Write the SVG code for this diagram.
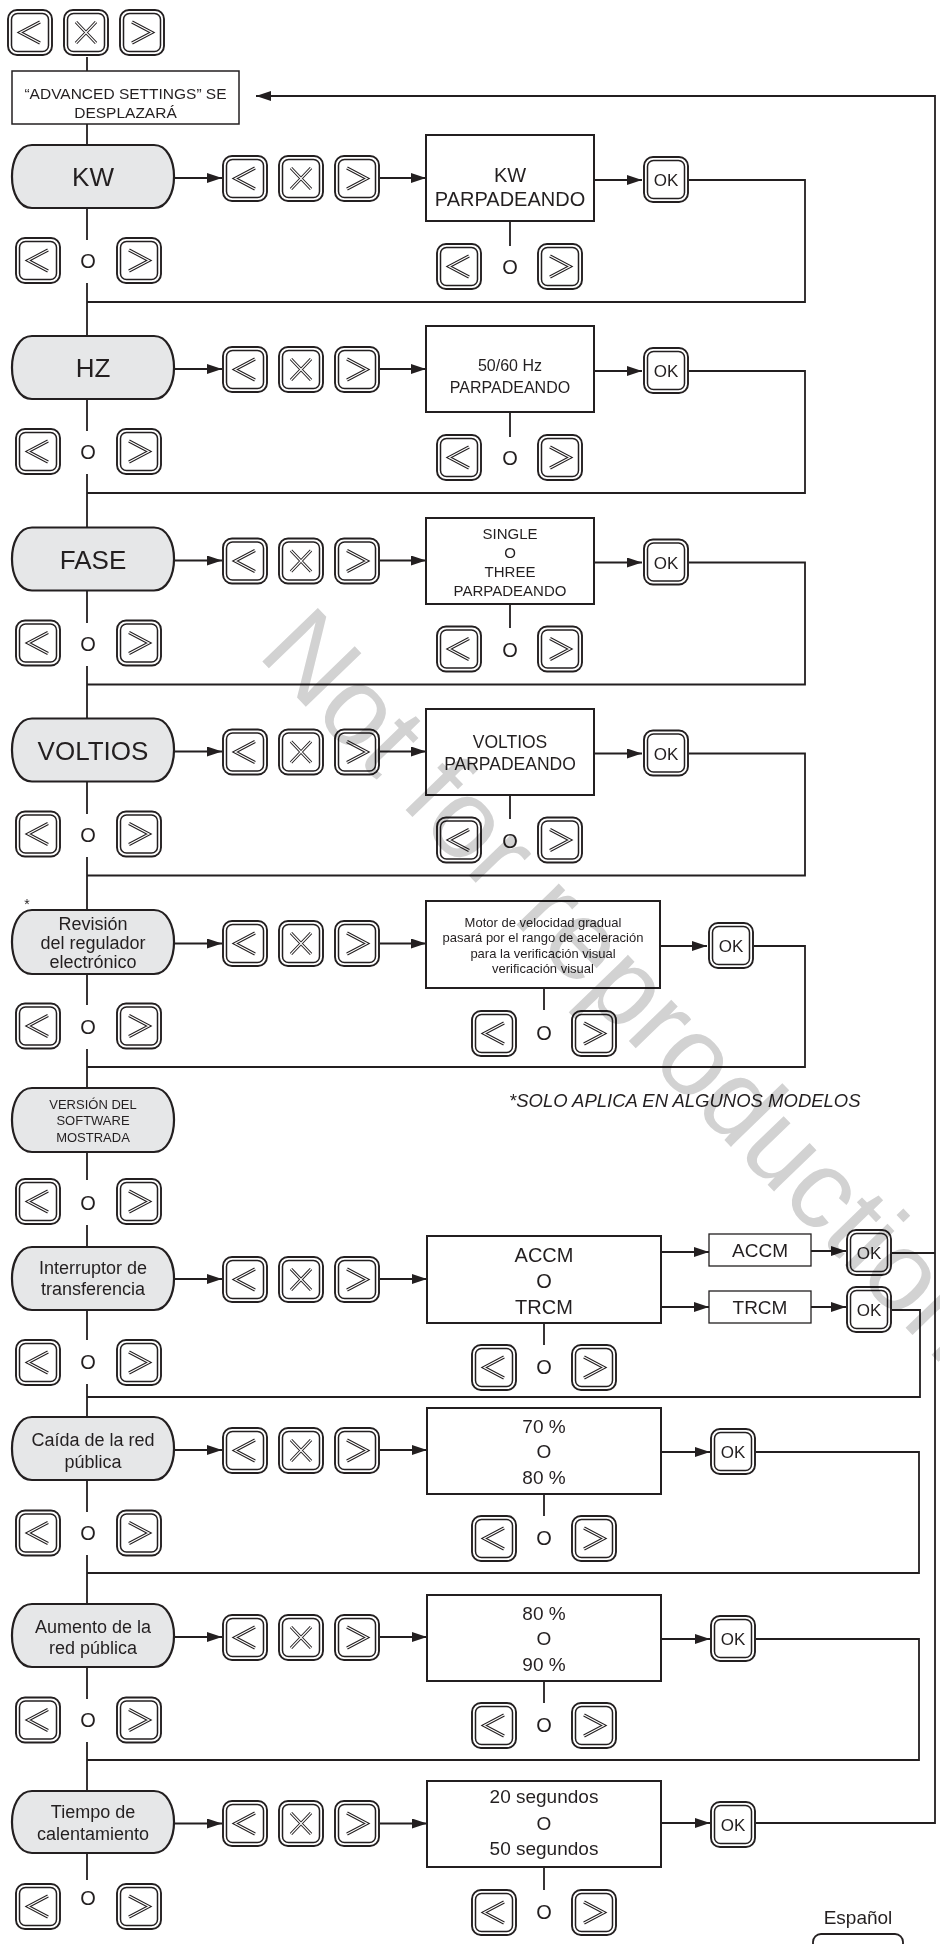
<svg xmlns="http://www.w3.org/2000/svg" xmlns:xlink="http://www.w3.org/1999/xlink" width="940" height="1944" viewBox="0 0 940 1944">
<style>
.ln{fill:none;stroke:#231f20;stroke-width:1.8}
.bo{fill:#fff;stroke:#231f20;stroke-width:1.9}
.bi{fill:none;stroke:#231f20;stroke-width:1.5}
.cv{fill:none;stroke:#231f20;stroke-width:3.2}
.cw{fill:none;stroke:#fff;stroke-width:1.1}
.pill{fill:#e6e7e8;stroke:#231f20;stroke-width:2.2}
.box{fill:#fff;stroke:#231f20;stroke-width:2}
.sb{fill:#fff;stroke:#231f20;stroke-width:1.3}
.t{font-family:"Liberation Sans",Arial,Helvetica,sans-serif;fill:#231f20;text-anchor:middle}
.wm{font-family:"Liberation Sans",Arial,Helvetica,sans-serif;fill:#d2d2d2;mix-blend-mode:multiply}
</style>
<defs>
<marker id="ah" viewBox="0 0 15 10" refX="15" refY="5" markerWidth="15" markerHeight="10" orient="auto" markerUnits="userSpaceOnUse"><path d="M0 0 L15 5 L0 10 Z" fill="#231f20"/></marker>
<g id="fr"><rect x="1" y="1" width="44" height="45" rx="9" class="bo"/><rect x="4.5" y="4.5" width="37" height="38" rx="6" class="bi"/></g>
<g id="bL"><use xlink:href="#fr"/><path d="M33 13 L13 23.5 L33 34" class="cv"/><path d="M33 13 L13 23.5 L33 34" class="cw"/></g>
<g id="bR"><use xlink:href="#fr"/><path d="M13 13 L33 23.5 L13 34" class="cv"/><path d="M13 13 L33 23.5 L13 34" class="cw"/></g>
<g id="bX"><use xlink:href="#fr"/><path d="M13 13 L33 34 M33 13 L13 34" class="cv"/><path d="M13 13 L33 34 M33 13 L13 34" class="cw"/></g>
</defs>
<rect width="940" height="1944" fill="#fff"/>

<g id="connectors">
<path class="ln" d="M87 57 V71 M87 124 V145 M87 208 V240 M87 283 V336 M87 399 V431 M87 474 V527.5 M87 590.5 V623 M87 666 V718.5 M87 781.5 V814 M87 857 V910 M87 974 V1005 M87 1049 V1088 M87 1152 V1180 M87 1225 V1247 M87 1310 V1340 M87 1384 V1417 M87 1480 V1512 M87 1555 V1604 M87 1667 V1699 M87 1742 V1791 M87 1853 V1880"/>
<!-- KW -->
<path class="ln" marker-end="url(#ah)" d="M174 178 H222"/>
<path class="ln" marker-end="url(#ah)" d="M380 178 H426"/>
<path class="ln" marker-end="url(#ah)" d="M594 180 H642"/>
<path class="ln" d="M689 180 H805 V302 H87 M510 221 V246"/>
<!-- HZ -->
<path class="ln" marker-end="url(#ah)" d="M174 369 H222"/>
<path class="ln" marker-end="url(#ah)" d="M380 369 H426"/>
<path class="ln" marker-end="url(#ah)" d="M594 371 H642"/>
<path class="ln" d="M689 371 H805 V493 H87 M510 412 V437"/>
<!-- FASE -->
<path class="ln" marker-end="url(#ah)" d="M174 560.5 H222"/>
<path class="ln" marker-end="url(#ah)" d="M380 560.5 H426"/>
<path class="ln" marker-end="url(#ah)" d="M594 562.5 H642"/>
<path class="ln" d="M689 562.5 H805 V684.5 H87 M510 603.5 V628"/>
<!-- VOLTIOS -->
<path class="ln" marker-end="url(#ah)" d="M174 751.5 H222"/>
<path class="ln" marker-end="url(#ah)" d="M380 751.5 H426"/>
<path class="ln" marker-end="url(#ah)" d="M594 753.5 H642"/>
<path class="ln" d="M689 753.5 H805 V875.5 H87 M510 794.5 V819"/>
<!-- Revision -->
<path class="ln" marker-end="url(#ah)" d="M174 943.5 H222"/>
<path class="ln" marker-end="url(#ah)" d="M380 943.5 H426"/>
<path class="ln" marker-end="url(#ah)" d="M660 946 H707"/>
<path class="ln" d="M754 946 H805 V1067 H87 M544 988 V1010"/>
<!-- Interruptor -->
<path class="ln" marker-end="url(#ah)" d="M174 1279 H222"/>
<path class="ln" marker-end="url(#ah)" d="M380 1279 H427"/>
<path class="ln" marker-end="url(#ah)" d="M661 1252 H709"/>
<path class="ln" marker-end="url(#ah)" d="M661 1307 H709"/>
<path class="ln" marker-end="url(#ah)" d="M811 1251 H846"/>
<path class="ln" marker-end="url(#ah)" d="M811 1307 H846"/>
<path class="ln" d="M892 1253 H935 M892 1310 H920 V1397 H87 M544 1323 V1345"/>
<!-- Caida -->
<path class="ln" marker-end="url(#ah)" d="M174 1450 H222"/>
<path class="ln" marker-end="url(#ah)" d="M380 1450 H427"/>
<path class="ln" marker-end="url(#ah)" d="M661 1452 H710"/>
<path class="ln" d="M756 1452 H919 V1573 H87 M544 1494 V1516"/>
<!-- Aumento -->
<path class="ln" marker-end="url(#ah)" d="M174 1637 H222"/>
<path class="ln" marker-end="url(#ah)" d="M380 1637 H427"/>
<path class="ln" marker-end="url(#ah)" d="M661 1639 H710"/>
<path class="ln" d="M756 1639 H919 V1760 H87 M544 1681 V1703"/>
<!-- Tiempo -->
<path class="ln" marker-end="url(#ah)" d="M174 1823.5 H222"/>
<path class="ln" marker-end="url(#ah)" d="M380 1823.5 H427"/>
<path class="ln" marker-end="url(#ah)" d="M661 1823 H710"/>
<path class="ln" d="M544 1867 V1890"/>
<path class="ln" marker-end="url(#ah)" d="M756 1823 H935 V96 H256"/>
</g>

<g id="start">
<use xlink:href="#bL" x="7" y="9"/><use xlink:href="#bX" x="63" y="9"/><use xlink:href="#bR" x="119" y="9"/>
</g>
<g id="advanced">
<rect x="12" y="71" width="227" height="53" fill="#fff" stroke="#231f20" stroke-width="1.5"/>
<text class="t" x="125.5" y="98.5" font-size="15.5">“ADVANCED SETTINGS” SE</text>
<text class="t" x="125.5" y="117.5" font-size="15.5">DESPLAZARÁ</text>
</g>

<!-- KW row -->
<g id="kw">
<path class="pill" d="M32 145 H154 C180.7 145 180.7 208 154 208 H32 C5.3 208 5.3 145 32 145 Z"/>
<text class="t" x="93" y="186" font-size="26">KW</text>
</g>
<g id="kw-keys"><use xlink:href="#bL" x="222" y="155"/><use xlink:href="#bX" x="278" y="155"/><use xlink:href="#bR" x="334" y="155"/></g>
<g id="kw-display"><rect class="box" x="426" y="135" width="168" height="86"/>
<text class="t" x="510" y="182" font-size="20">KW</text><text class="t" x="510" y="206" font-size="20">PARPADEANDO</text></g>
<g id="kw-ok"><use xlink:href="#fr" x="643" y="156"/><text class="t" x="666" y="186" font-size="17">OK</text></g>
<g id="kw-adj"><use xlink:href="#bL" x="436" y="243"/><text class="t" x="510" y="274" font-size="20">O</text><use xlink:href="#bR" x="537" y="243"/></g>
<g id="kw-nav"><use xlink:href="#bL" x="15" y="237"/><text class="t" x="88" y="268" font-size="20">O</text><use xlink:href="#bR" x="116" y="237"/></g>

<!-- HZ row -->
<g id="hz">
<path class="pill" d="M32 336 H154 C180.7 336 180.7 399 154 399 H32 C5.3 399 5.3 336 32 336 Z"/>
<text class="t" x="93" y="377" font-size="26">HZ</text>
</g>
<g id="hz-keys"><use xlink:href="#bL" x="222" y="346"/><use xlink:href="#bX" x="278" y="346"/><use xlink:href="#bR" x="334" y="346"/></g>
<g id="hz-display"><rect class="box" x="426" y="326" width="168" height="86"/>
<text class="t" x="510" y="370.5" font-size="16">50/60 Hz</text><text class="t" x="510" y="392.5" font-size="16">PARPADEANDO</text></g>
<g id="hz-ok"><use xlink:href="#fr" x="643" y="347"/><text class="t" x="666" y="377" font-size="17">OK</text></g>
<g id="hz-adj"><use xlink:href="#bL" x="436" y="434"/><text class="t" x="510" y="465" font-size="20">O</text><use xlink:href="#bR" x="537" y="434"/></g>
<g id="hz-nav"><use xlink:href="#bL" x="15" y="428"/><text class="t" x="88" y="459" font-size="20">O</text><use xlink:href="#bR" x="116" y="428"/></g>

<!-- FASE row -->
<g id="fase">
<path class="pill" d="M32 527.5 H154 C180.7 527.5 180.7 590.5 154 590.5 H32 C5.3 590.5 5.3 527.5 32 527.5 Z"/>
<text class="t" x="93" y="568.5" font-size="26">FASE</text>
</g>
<g id="fase-keys"><use xlink:href="#bL" x="222" y="537.5"/><use xlink:href="#bX" x="278" y="537.5"/><use xlink:href="#bR" x="334" y="537.5"/></g>
<g id="fase-display"><rect class="box" x="426" y="518" width="168" height="86"/>
<text class="t" x="510" y="538.5" font-size="15">SINGLE</text><text class="t" x="510" y="557.5" font-size="15">O</text>
<text class="t" x="510" y="576.5" font-size="15">THREE</text><text class="t" x="510" y="596" font-size="15">PARPADEANDO</text></g>
<g id="fase-ok"><use xlink:href="#fr" x="643" y="538.5"/><text class="t" x="666" y="568.5" font-size="17">OK</text></g>
<g id="fase-adj"><use xlink:href="#bL" x="436" y="625.5"/><text class="t" x="510" y="656.5" font-size="20">O</text><use xlink:href="#bR" x="537" y="625.5"/></g>
<g id="fase-nav"><use xlink:href="#bL" x="15" y="619.5"/><text class="t" x="88" y="650.5" font-size="20">O</text><use xlink:href="#bR" x="116" y="619.5"/></g>

<!-- VOLTIOS row -->
<g id="voltios">
<path class="pill" d="M32 718.5 H154 C180.7 718.5 180.7 781.5 154 781.5 H32 C5.3 781.5 5.3 718.5 32 718.5 Z"/>
<text class="t" x="93" y="759.5" font-size="26">VOLTIOS</text>
</g>
<g id="voltios-keys"><use xlink:href="#bL" x="222" y="728.5"/><use xlink:href="#bX" x="278" y="728.5"/><use xlink:href="#bR" x="334" y="728.5"/></g>
<g id="voltios-display"><rect class="box" x="426" y="709" width="168" height="86"/>
<text class="t" x="510" y="748" font-size="17.5">VOLTIOS</text><text class="t" x="510" y="770" font-size="17.5">PARPADEANDO</text></g>
<g id="voltios-ok"><use xlink:href="#fr" x="643" y="729.5"/><text class="t" x="666" y="759.5" font-size="17">OK</text></g>
<g id="voltios-adj"><use xlink:href="#bL" x="436" y="816.5"/><text class="t" x="510" y="847.5" font-size="20">O</text><use xlink:href="#bR" x="537" y="816.5"/></g>
<g id="voltios-nav"><use xlink:href="#bL" x="15" y="810.5"/><text class="t" x="88" y="841.5" font-size="20">O</text><use xlink:href="#bR" x="116" y="810.5"/></g>

<!-- Revision row -->
<g id="revision">
<text class="t" x="27" y="909" font-size="14">*</text>
<path class="pill" d="M32 910 H154 C180.7 910 180.7 974 154 974 H32 C5.3 974 5.3 910 32 910 Z"/>
<text class="t" x="93" y="929.5" font-size="18">Revisión</text>
<text class="t" x="93" y="949" font-size="18">del regulador</text>
<text class="t" x="93" y="967.5" font-size="18">electrónico</text>
</g>
<g id="revision-keys"><use xlink:href="#bL" x="222" y="920"/><use xlink:href="#bX" x="278" y="920"/><use xlink:href="#bR" x="334" y="920"/></g>
<g id="revision-display"><rect class="box" x="426" y="901" width="234" height="87"/>
<text class="t" x="543" y="926.5" font-size="13">Motor de velocidad gradual</text>
<text class="t" x="543" y="941.5" font-size="13">pasará por el rango de aceleración</text>
<text class="t" x="543" y="957.5" font-size="13">para la verificación visual</text>
<text class="t" x="543" y="972.5" font-size="13">verificación visual</text></g>
<g id="revision-ok"><use xlink:href="#fr" x="708" y="922"/><text class="t" x="731" y="952" font-size="17">OK</text></g>
<g id="revision-adj"><use xlink:href="#bL" x="471" y="1010"/><text class="t" x="544" y="1040" font-size="20">O</text><use xlink:href="#bR" x="571" y="1010"/></g>
<g id="revision-nav"><use xlink:href="#bL" x="15" y="1002.5"/><text class="t" x="88" y="1033.5" font-size="20">O</text><use xlink:href="#bR" x="116" y="1002.5"/></g>

<g id="note"><text x="509" y="1107" font-size="18.5" font-style="italic" font-family="Liberation Sans, Arial, sans-serif" fill="#231f20">*SOLO APLICA EN ALGUNOS MODELOS</text></g>

<!-- Version row -->
<g id="version">
<path class="pill" d="M32 1088 H154 C180.7 1088 180.7 1152 154 1152 H32 C5.3 1152 5.3 1088 32 1088 Z"/>
<text class="t" x="93" y="1108.5" font-size="13">VERSIÓN DEL</text>
<text class="t" x="93" y="1124.5" font-size="13">SOFTWARE</text>
<text class="t" x="93" y="1141.5" font-size="13">MOSTRADA</text>
</g>
<g id="version-nav"><use xlink:href="#bL" x="15" y="1178"/><text class="t" x="88" y="1210" font-size="20">O</text><use xlink:href="#bR" x="116" y="1178"/></g>

<!-- Interruptor row -->
<g id="interruptor">
<path class="pill" d="M32 1247 H154 C180.7 1247 180.7 1310 154 1310 H32 C5.3 1310 5.3 1247 32 1247 Z"/>
<text class="t" x="93" y="1274" font-size="18">Interruptor de</text>
<text class="t" x="93" y="1295" font-size="18">transferencia</text>
</g>
<g id="interruptor-keys"><use xlink:href="#bL" x="222" y="1256"/><use xlink:href="#bX" x="278" y="1256"/><use xlink:href="#bR" x="334" y="1256"/></g>
<g id="interruptor-display"><rect class="box" x="427" y="1236" width="234" height="87"/>
<text class="t" x="544" y="1262" font-size="20">ACCM</text><text class="t" x="544" y="1288" font-size="20">O</text><text class="t" x="544" y="1314" font-size="20">TRCM</text></g>
<g id="accm"><rect class="sb" x="709" y="1234" width="102" height="32"/><text class="t" x="760" y="1257" font-size="19">ACCM</text></g>
<g id="trcm"><rect class="sb" x="709" y="1291" width="102" height="32"/><text class="t" x="760" y="1314" font-size="19">TRCM</text></g>
<g id="accm-ok"><use xlink:href="#fr" x="846" y="1229"/><text class="t" x="869" y="1259" font-size="17">OK</text></g>
<g id="trcm-ok"><use xlink:href="#fr" x="846" y="1286"/><text class="t" x="869" y="1316" font-size="17">OK</text></g>
<g id="interruptor-adj"><use xlink:href="#bL" x="471" y="1344"/><text class="t" x="544" y="1374" font-size="20">O</text><use xlink:href="#bR" x="571" y="1344"/></g>
<g id="interruptor-nav"><use xlink:href="#bL" x="15" y="1339"/><text class="t" x="88" y="1369" font-size="20">O</text><use xlink:href="#bR" x="116" y="1339"/></g>

<!-- Caida row -->
<g id="caida">
<path class="pill" d="M32 1417 H154 C180.7 1417 180.7 1480 154 1480 H32 C5.3 1480 5.3 1417 32 1417 Z"/>
<text class="t" x="93" y="1446" font-size="18">Caída de la red</text>
<text class="t" x="93" y="1468" font-size="18">pública</text>
</g>
<g id="caida-keys"><use xlink:href="#bL" x="222" y="1427"/><use xlink:href="#bX" x="278" y="1427"/><use xlink:href="#bR" x="334" y="1427"/></g>
<g id="caida-display"><rect class="box" x="427" y="1408" width="234" height="86"/>
<text class="t" x="544" y="1433" font-size="19">70 %</text><text class="t" x="544" y="1458" font-size="19">O</text><text class="t" x="544" y="1484" font-size="19">80 %</text></g>
<g id="caida-ok"><use xlink:href="#fr" x="710" y="1428"/><text class="t" x="733" y="1458" font-size="17">OK</text></g>
<g id="caida-adj"><use xlink:href="#bL" x="471" y="1515"/><text class="t" x="544" y="1545" font-size="20">O</text><use xlink:href="#bR" x="571" y="1515"/></g>
<g id="caida-nav"><use xlink:href="#bL" x="15" y="1509.5"/><text class="t" x="88" y="1540" font-size="20">O</text><use xlink:href="#bR" x="116" y="1509.5"/></g>

<!-- Aumento row -->
<g id="aumento">
<path class="pill" d="M32 1604 H154 C180.7 1604 180.7 1667 154 1667 H32 C5.3 1667 5.3 1604 32 1604 Z"/>
<text class="t" x="93" y="1633" font-size="18">Aumento de la</text>
<text class="t" x="93" y="1654" font-size="18">red pública</text>
</g>
<g id="aumento-keys"><use xlink:href="#bL" x="222" y="1614"/><use xlink:href="#bX" x="278" y="1614"/><use xlink:href="#bR" x="334" y="1614"/></g>
<g id="aumento-display"><rect class="box" x="427" y="1595" width="234" height="86"/>
<text class="t" x="544" y="1620" font-size="19">80 %</text><text class="t" x="544" y="1645" font-size="19">O</text><text class="t" x="544" y="1671" font-size="19">90 %</text></g>
<g id="aumento-ok"><use xlink:href="#fr" x="710" y="1615"/><text class="t" x="733" y="1645" font-size="17">OK</text></g>
<g id="aumento-adj"><use xlink:href="#bL" x="471" y="1702"/><text class="t" x="544" y="1732" font-size="20">O</text><use xlink:href="#bR" x="571" y="1702"/></g>
<g id="aumento-nav"><use xlink:href="#bL" x="15" y="1696.5"/><text class="t" x="88" y="1727" font-size="20">O</text><use xlink:href="#bR" x="116" y="1696.5"/></g>

<!-- Tiempo row -->
<g id="tiempo">
<path class="pill" d="M32 1791 H154 C180.7 1791 180.7 1853 154 1853 H32 C5.3 1853 5.3 1791 32 1791 Z"/>
<text class="t" x="93" y="1818" font-size="18">Tiempo de</text>
<text class="t" x="93" y="1840" font-size="18">calentamiento</text>
</g>
<g id="tiempo-keys"><use xlink:href="#bL" x="222" y="1800"/><use xlink:href="#bX" x="278" y="1800"/><use xlink:href="#bR" x="334" y="1800"/></g>
<g id="tiempo-display"><rect class="box" x="427" y="1781" width="234" height="86"/>
<text class="t" x="544" y="1803" font-size="19">20 segundos</text><text class="t" x="544" y="1830" font-size="19">O</text><text class="t" x="544" y="1855" font-size="19">50 segundos</text></g>
<g id="tiempo-ok"><use xlink:href="#fr" x="710" y="1801"/><text class="t" x="733" y="1831" font-size="17">OK</text></g>
<g id="tiempo-adj"><use xlink:href="#bL" x="471" y="1889"/><text class="t" x="544" y="1919" font-size="20">O</text><use xlink:href="#bR" x="571" y="1889"/></g>
<g id="tiempo-nav"><use xlink:href="#bL" x="15" y="1883"/><text class="t" x="88" y="1905" font-size="20">O</text><use xlink:href="#bR" x="116" y="1883"/></g>

<g id="language-tab">
<text class="t" x="858" y="1924" font-size="19">Español</text>
<rect x="813" y="1934" width="90" height="30" rx="8" fill="#fff" stroke="#231f20" stroke-width="1.8"/>
</g>

<g id="watermark"><text class="wm" x="256" y="655" font-size="112" transform="rotate(46 256 655)">Not for reproduction</text></g>
</svg>
